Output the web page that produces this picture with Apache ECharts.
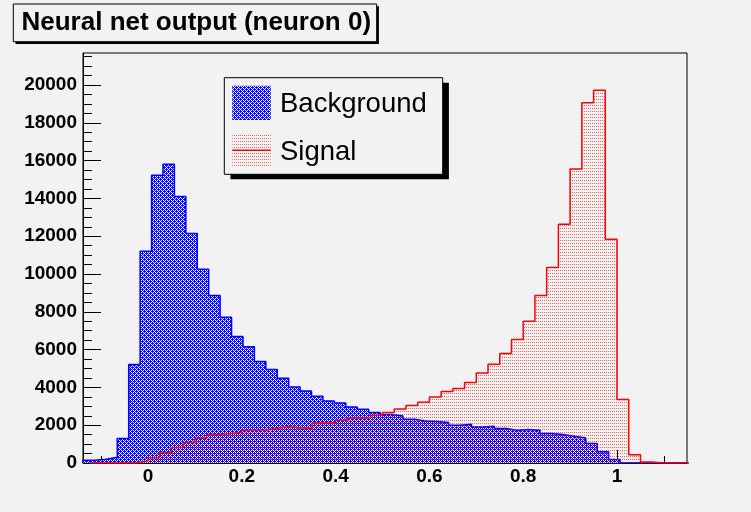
<!DOCTYPE html>
<html>
<head>
<meta charset="utf-8">
<script src="https://cdn.jsdelivr.net/npm/echarts@6/dist/echarts.min.js"></script>
<style>
  html, body { margin: 0; padding: 0; background: #f2f2f2; }
  #chart { width: 751px; height: 512px; }
</style>
</head>
<body>
<div id="chart"></div>
<script>
// ---- histogram contents -------------------------------------------------
const chartTitle = 'Neural net output (neuron 0)';
const seriesNames = ['Background', 'Signal'];

// Background: bins start at the left edge of the range
const bgStart = -0.1385;
const bgBinWidth = 0.02436;
const bgCounts = [
  143, 196, 300, 1292, 5210, 11200, 15230, 15810, 14106, 12150,
  10250, 8864, 7710, 6690, 6150, 5370, 4946, 4490, 4024, 3812,
  3532, 3283, 3177, 2965, 2843, 2669, 2563, 2488, 2314, 2224,
  2192, 2139, 1996, 2049, 1906, 1943, 1821, 1731, 1768, 1731,
  1557, 1504, 1414, 1324, 1027, 600, 190, 0, 0, 0,
  0, 0, 0
];

// Signal: 0.025 wide bins
const sigStart = -0.125;
const sigBinWidth = 0.025;
const sigCounts = [
  0, 0, 0, 0, 100, 280, 560, 815, 1080, 1315,
  1504, 1557, 1610, 1731, 1750, 1840, 1935, 1853, 1853, 2118,
  2118, 2261, 2383, 2383, 2526, 2669, 2859, 3039, 3214, 3495,
  3790, 3940, 4257, 4766, 5226, 5793, 6534, 7503, 8864, 10346,
  12639, 15551, 19062, 19719, 11845, 3357, 430, 50, 0, 0,
  0, 0
];

// ---- axes ----------------------------------------------------------------
const xRange = [-0.1385, 1.1492];
const yMax = 21695;
const xTickLabels = [0, 0.2, 0.4, 0.6, 0.8, 1];
const yTickLabels = [0, 2000, 4000, 6000, 8000, 10000, 12000, 14000, 16000, 18000, 20000];

function minorTicks(lo, hi, step, majors) {
  const out = [];
  for (let v = Math.ceil(lo / step) * step; v <= hi + 1e-9; v += step) {
    const r = Math.round(v / step) * step;
    if (!majors.some(m => Math.abs(m - r) < 1e-9)) out.push(+r.toFixed(4));
  }
  return out;
}
const xMinor = minorTicks(xRange[0], xRange[1], 0.05, xTickLabels);
const yMinor = minorTicks(0, yMax, 500, yTickLabels);

// step outline points of a histogram: [edge, content] with a drop to zero at both ends
function stepPoints(start, width, counts) {
  const pts = [[start, 0]];
  counts.forEach((c, i) => pts.push([start + i * width, c]));
  const end = start + counts.length * width;
  pts.push([end, counts[counts.length - 1]]);
  pts.push([end, 0]);
  return pts;
}

// ---- fill patterns ---------------------------------------------------------
function makePattern(w, h, bg, fg, cells) {
  const c = document.createElement('canvas');
  c.width = w; c.height = h;
  const g = c.getContext('2d');
  if (bg) { g.fillStyle = bg; g.fillRect(0, 0, w, h); }
  g.fillStyle = fg;
  cells.forEach(([x, y]) => g.fillRect(x, y, 1, 1));
  return c;
}
const bluePattern = makePattern(4, 4, '#0000ff', '#ffffff',
  [[1, 0], [3, 0], [0, 1], [1, 2], [3, 2], [2, 3]]);
const redPattern = makePattern(2, 3, null, 'rgba(255,0,0,0.6)', [[0, 0]]);

const FONT = '"Liberation Sans", Arial, Helvetica, sans-serif';

const chart = echarts.init(document.getElementById('chart'), null, { renderer: 'canvas' });

chart.setOption({
  animation: false,
  backgroundColor: '#f2f2f2',
  grid: {
    left: 83, top: 53, right: 64, bottom: 49,
    show: true, borderColor: '#000', borderWidth: 1, backgroundColor: 'transparent'
  },
  xAxis: [
    {
      type: 'value', min: xRange[0], max: xRange[1], position: 'bottom',
      axisLine: { show: true, onZero: false, lineStyle: { color: '#000', width: 1 } },
      axisTick: { show: true, inside: true, length: 13, customValues: xTickLabels, lineStyle: { color: '#000', width: 1 } },
      axisLabel: {
        customValues: xTickLabels, margin: 4, color: '#000',
        fontFamily: FONT, fontWeight: 'bold', fontSize: 19,
        formatter: v => String(v)
      },
      splitLine: { show: false }
    },
    {
      type: 'value', min: xRange[0], max: xRange[1], position: 'bottom',
      axisLine: { show: false, onZero: false },
      axisTick: { show: true, inside: true, length: 7, customValues: xMinor, lineStyle: { color: '#000', width: 1 } },
      axisLabel: { show: false },
      splitLine: { show: false }
    }
  ],
  yAxis: [
    {
      type: 'value', min: 0, max: yMax, position: 'left',
      axisLine: { show: true, onZero: false, lineStyle: { color: '#000', width: 1 } },
      axisTick: { show: true, inside: true, length: 18, customValues: yTickLabels, lineStyle: { color: '#000', width: 1 } },
      axisLabel: {
        customValues: yTickLabels, margin: 6, color: '#000',
        fontFamily: FONT, fontWeight: 'bold', fontSize: 19,
        formatter: v => String(v)
      },
      splitLine: { show: false }
    },
    {
      type: 'value', min: 0, max: yMax, position: 'left',
      axisLine: { show: false, onZero: false },
      axisTick: { show: true, inside: true, length: 9, customValues: yMinor, lineStyle: { color: '#000', width: 1 } },
      axisLabel: { show: false },
      splitLine: { show: false }
    }
  ],
  series: [
    {
      name: seriesNames[0], type: 'line', step: 'end', symbol: 'none',
      xAxisIndex: 0, yAxisIndex: 0,
      data: stepPoints(bgStart, bgBinWidth, bgCounts),
      lineStyle: { color: '#0000ff', width: 1.5 },
      areaStyle: { color: { image: bluePattern, repeat: 'repeat' }, opacity: 1 },
      z: 2
    },
    {
      name: seriesNames[1], type: 'line', step: 'end', symbol: 'none',
      xAxisIndex: 0, yAxisIndex: 0,
      data: stepPoints(sigStart, sigBinWidth, sigCounts),
      lineStyle: { color: '#ff0000', width: 1.5 },
      areaStyle: { color: { image: redPattern, repeat: 'repeat' }, opacity: 1 },
      z: 3
    }
  ],
  graphic: [
    // title pave with shadow
    { type: 'rect', shape: { x: 15.5, y: 6.2, width: 363.4, height: 37.7 }, style: { fill: '#000' }, z: 10 },
    { type: 'rect', shape: { x: 13.3, y: 4, width: 363.4, height: 37.7 }, style: { fill: '#f2f2f2', stroke: '#000', lineWidth: 1 }, z: 11 },
    { type: 'text', x: 21.5, y: 23, style: { text: chartTitle, font: 'bold 26px ' + FONT, fill: '#000', textVerticalAlign: 'middle' }, z: 12 },
    // legend box with shadow
    { type: 'rect', shape: { x: 230.5, y: 82.7, width: 218.4, height: 96.6 }, style: { fill: '#000' }, z: 10 },
    { type: 'rect', shape: { x: 224.3, y: 77.7, width: 218.4, height: 96.6 }, style: { fill: '#f2f2f2', stroke: '#000', lineWidth: 1 }, z: 11 },
    { type: 'rect', shape: { x: 232.3, y: 85.7, width: 38.4, height: 34.3 }, style: { fill: { image: bluePattern, repeat: 'repeat' } }, z: 12 },
    { type: 'text', x: 280, y: 104, style: { text: seriesNames[0], font: '27.5px ' + FONT, fill: '#000', textVerticalAlign: 'middle' }, z: 12 },
    { type: 'rect', shape: { x: 232.3, y: 133, width: 38.4, height: 35 }, style: { fill: { image: redPattern, repeat: 'repeat' } }, z: 12 },
    { type: 'line', shape: { x1: 232.3, y1: 150.3, x2: 270.7, y2: 150.3 }, style: { stroke: '#ff0000', lineWidth: 1.5 }, z: 13 },
    { type: 'text', x: 280, y: 152, style: { text: seriesNames[1], font: '27.5px ' + FONT, fill: '#000', textVerticalAlign: 'middle' }, z: 12 }
  ]
});
</script>
</body>
</html>
